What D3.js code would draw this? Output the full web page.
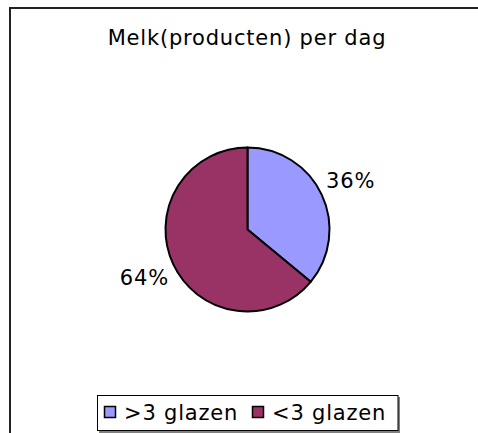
<!DOCTYPE html>
<html>
<head>
<meta charset="utf-8">
<script src="https://cdn.jsdelivr.net/npm/d3@7"></script>
<style>
  body { margin: 0; background: #fff; }
  svg text { font-family: "DejaVu Sans", Verdana, sans-serif; fill: #000; font-size: 21px; letter-spacing: 0.8px; }
</style>
</head>
<body>
<div id="chart"></div>
<script>
const width = 478, height = 433;

const title = "Melk(producten) per dag";
const labels = [">3 glazen", "<3 glazen"];
const values = [36, 64];
const colors = ["#9999ff", "#993366"];

const svg = d3.select("#chart").append("svg")
    .attr("width", width)
    .attr("height", height);

// chart area border (right/bottom fall outside the picture)
svg.append("rect")
    .attr("x", 10).attr("y", 8)
    .attr("width", 480).attr("height", 440)
    .attr("fill", "none")
    .attr("stroke", "#222")
    .attr("stroke-width", 2);

svg.append("text")
    .attr("x", 247).attr("y", 45)
    .attr("text-anchor", "middle")
    .text(title);

const cx = 247.5, cy = 229.5, r = 82;
const data = labels.map((l, i) => ({label: l, value: values[i], color: colors[i]}));

const pie = d3.pie().sort(null).value(d => d.value);
const arc = d3.arc().innerRadius(0).outerRadius(r);
const labelArc = d3.arc().innerRadius(114).outerRadius(114);

const g = svg.append("g").attr("transform", `translate(${cx},${cy})`);

g.selectAll("path")
    .data(pie(data))
    .join("path")
    .attr("d", arc)
    .attr("fill", d => d.data.color)
    .attr("stroke", "#000")
    .attr("stroke-width", 2)
    .attr("stroke-linejoin", "round");

g.selectAll("text")
    .data(pie(data))
    .join("text")
    .attr("transform", d => `translate(${labelArc.centroid(d)})`)
    .attr("text-anchor", "middle")
    .attr("dy", "0.35em")
    .text(d => d.data.value + "%");

// legend
const legend = svg.append("g");
legend.append("rect")
    .attr("x", 99).attr("y", 397)
    .attr("width", 301).attr("height", 36)
    .attr("fill", "#808080");
legend.append("rect")
    .attr("x", 97.5).attr("y", 395.5)
    .attr("width", 300.5).attr("height", 35)
    .attr("fill", "#fff")
    .attr("stroke", "#000")
    .attr("stroke-width", 1);

const legendX = d3.scaleOrdinal().domain(labels).range([104, 252]);

const items = legend.selectAll("g.item")
    .data(data)
    .join("g")
    .attr("class", "item")
    .attr("transform", d => `translate(${legendX(d.label)},406)`);

items.append("rect")
    .attr("x", 0.5).attr("y", 0.5)
    .attr("width", 11).attr("height", 11)
    .attr("fill", d => d.color)
    .attr("stroke", "#000")
    .attr("stroke-width", 1.5);

items.append("text")
    .attr("x", 20).attr("y", 14)
    .text(d => d.label);
</script>
</body>
</html>
